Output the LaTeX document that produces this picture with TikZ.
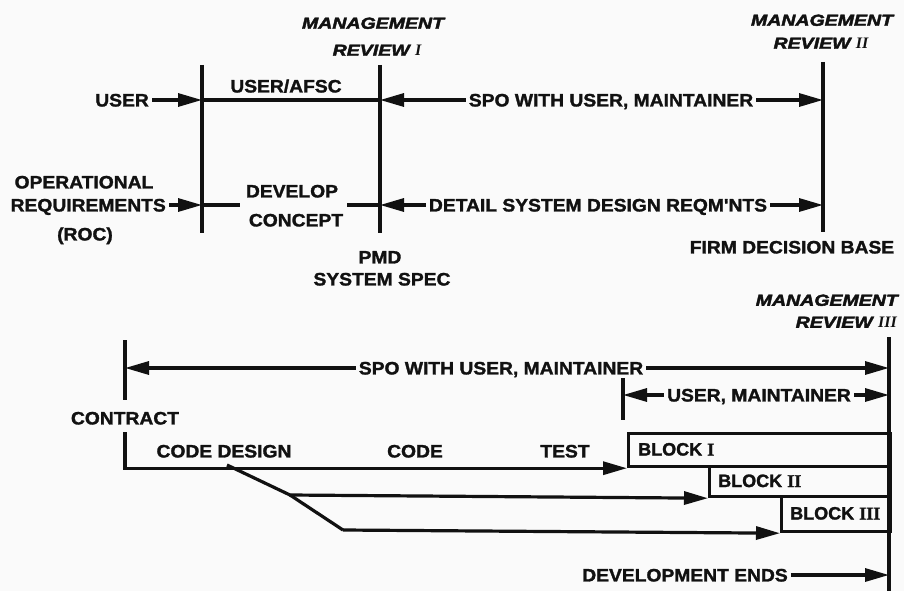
\documentclass[tikz,border=0pt]{standalone}
\usepackage{fontspec}
\newfontfamily\lblfont{Liberation Sans}[FakeStretch=1.07, BoldFeatures={FakeBold=1.6}]
\newfontfamily\blkfont{Liberation Sans}[FakeStretch=1.0, BoldFeatures={FakeBold=1.6}]
\newfontfamily\mgfont{Liberation Sans}[FakeStretch=1.22, BoldItalicFeatures={FakeBold=2.6}]
\newfontfamily\numfont{Liberation Serif}[BoldFeatures={FakeBold=1.6}]
\usetikzlibrary{arrows.meta}
\definecolor{ink}{HTML}{111111}
\definecolor{paper}{HTML}{FAFAFA}
\begin{document}
\begin{tikzpicture}[x=1pt,y=-1pt,
  ln/.style={draw=ink, line width=3.2pt},
  arr/.style={ln, -{Triangle[length=24pt,width=13pt]}},
  lbl/.style={font=\lblfont\bfseries\fontsize{18}{20}\selectfont, text=ink, inner xsep=3pt, inner ysep=0pt, text height=12.9pt, text depth=0pt},
  blt/.style={font=\blkfont\bfseries\fontsize{18}{20}\selectfont, text=ink, inner sep=0pt, text height=12.9pt, text depth=0pt, anchor=west},
  mg/.style={font=\mgfont\bfseries\itshape\fontsize{16}{18}\selectfont, text=ink, inner sep=0pt, text height=11.5pt, text depth=0pt},
  blk/.style={draw=ink, line width=3.2pt, anchor=north west, inner sep=0pt}]
\useasboundingbox (0,0) rectangle (904,591);
\fill[paper] (0,0) rectangle (904,591);

% ---------- top section ----------
\coordinate (v1t) at (202,65);  \coordinate (v1b) at (202,233);
\coordinate (v2t) at (380,65);  \coordinate (v2b) at (380,233);
\coordinate (v3t) at (823,62);  \coordinate (v3b) at (823,232);
\draw[ln] (v1t) -- (v1b);
\draw[ln] (v2t) -- (v2b);
\draw[ln] (v3t) -- (v3b);

\node[mg] (m1a) at (373,23) {MANAGEMENT};
\node[mg] (m1b) at (377,50) {REVIEW {\numfont\bfseries I}};
\node[mg] (m2a) at (822,20) {MANAGEMENT};
\node[mg] (m2b) at (821,43) {REVIEW {\numfont\bfseries II}};

\node[lbl, anchor=east] (user) at (152,100) {USER};
\node[lbl] (uafsc) at (286,86) {USER/AFSC};
\node[lbl] (spo1) at (611,100) {SPO WITH USER, MAINTAINER};
\draw[arr] (user.east) -- (user.east -| v1t);
\draw[ln] (user.east -| v1t) -- (user.east -| v2t);
\draw[arr] (spo1.west) -- (spo1.west -| v2t);
\draw[arr] (spo1.east) -- (spo1.east -| v3t);

\node[lbl] (op1) at (84,182) {OPERATIONAL};
\node[lbl, anchor=east] (op2) at (169,205) {REQUIREMENTS};
\node[lbl] (op3) at (85,234) {(ROC)};
\node[lbl] (dev1) at (292,191) {DEVELOP};
\node[lbl] (dev2) at (296,220) {CONCEPT};
\coordinate (dl) at (240,205);
\coordinate (dr) at (347,205);
\node[lbl] (det) at (598,205) {DETAIL SYSTEM DESIGN REQM'NTS};
\draw[arr] (op2.east) -- (op2.east -| v1t);
\draw[ln] (op2.east -| v1t) -- (dl);
\draw[ln] (dr) -- (dr -| v2t);
\draw[arr] (det.west) -- (det.west -| v2t);
\draw[arr] (det.east) -- (det.east -| v3t);

\node[lbl] (pmd) at (380,257) {PMD};
\node[lbl] (sspec) at (382,279) {SYSTEM SPEC};
\node[lbl] (firm) at (792,247) {FIRM DECISION BASE};

% ---------- bottom section ----------
\node[mg, anchor=east] (m3a) at (898,300) {MANAGEMENT};
\node[mg, anchor=east] (m3b) at (897,322) {REVIEW {\numfont\bfseries III}};

\coordinate (r3t) at (889,337); \coordinate (r3b) at (889,591);
\draw[ln] (r3t) -- (r3b);

\coordinate (c1t) at (125,340); \coordinate (c1b) at (125,400);
\coordinate (c2t) at (125,432);
\node[lbl] (contract) at (125,418) {CONTRACT};
\draw[ln] (c1t) -- (c1b);

\node[lbl] (spo2) at (501,368) {SPO WITH USER, MAINTAINER};
\draw[arr] (spo2.west) -- (spo2.west -| c1t);
\draw[arr] (spo2.east) -- (spo2.east -| r3t);

\coordinate (umt) at (623,378); \coordinate (umb) at (623,420);
\draw[ln] (umt) -- (umb);
\node[lbl] (um) at (759,395) {USER, MAINTAINER};
\draw[arr] (um.west) -- (um.west -| umt);
\draw[arr] (um.east) -- (um.east -| r3t);

\node[blk, minimum width=262pt, minimum height=33pt] (b1) at (627,432) {};
\node[blk, minimum width=181pt, minimum height=30pt] (b2) at (708,465) {};
\node[blk, minimum width=109pt, minimum height=35pt] (b3) at (780,495) {};
\node[blt] (b1t) at ([xshift=11pt,yshift=1pt]b1.west) {BLOCK {\numfont\bfseries I}};
\node[blt] (b2t) at ([xshift=10pt,yshift=1pt]b2.west) {BLOCK {\numfont\bfseries II}};
\node[blt] (b3t) at ([xshift=10pt,yshift=1pt]b3.west) {BLOCK {\numfont\bfseries III}};

\draw[arr] (c2t) -- (c2t |- b1.south west) -- (b1.south west);

\node[lbl] (cdes) at (224,451) {CODE DESIGN};
\node[lbl] (code) at (415,451) {CODE};
\node[lbl] (test) at (565,451) {TEST};

\coordinate (d0) at (227,465);
\coordinate (d1) at (290,495);
\coordinate (d2) at (343,530);
\draw[arr] (d0) -- (d1) -- (b2.south west);
\draw[ln] (d1) -- (d2);
\draw[arr] (d2) -- (b3.south west);

\node[lbl] (dend) at (685,575) {DEVELOPMENT ENDS};
\draw[arr] (dend.east) -- (dend.east -| r3t);
\end{tikzpicture}
\end{document}
